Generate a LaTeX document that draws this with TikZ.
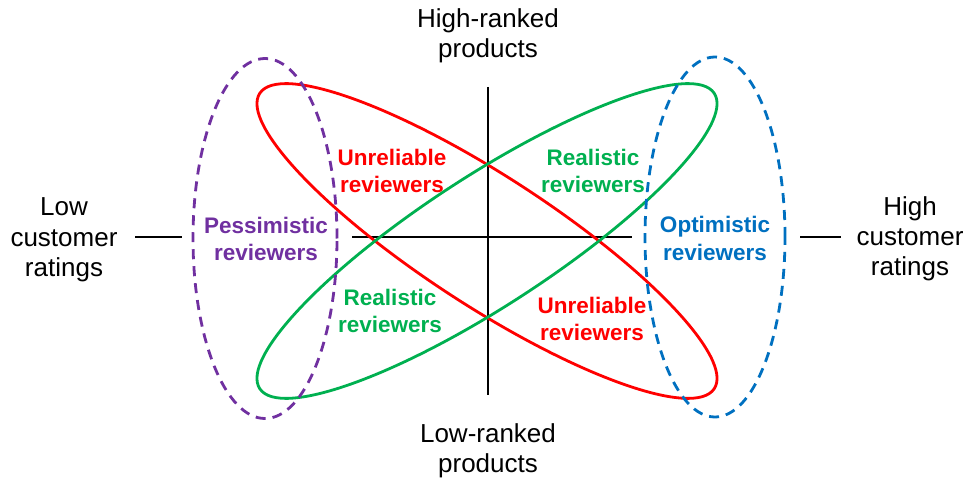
\documentclass[tikz,border=0pt]{standalone}
\usepackage{fontspec}
\setmainfont{Liberation Sans}
\definecolor{redline}{HTML}{FF0000}
\definecolor{greenline}{HTML}{00B050}
\definecolor{purpleline}{HTML}{7030A0}
\definecolor{blueline}{HTML}{0070C0}
\begin{document}
\begin{tikzpicture}[x=1pt,y=1pt,
  axis/.style={line width=2.4pt, black},
  loop/.style={line width=2.8pt},
  dashloop/.style={line width=2.8pt, dash pattern=on 10pt off 7pt},
  axislabel/.style={align=center, inner sep=0pt, font=\fontsize{26}{30}\selectfont},
  grouplabel/.style={align=center, inner sep=0pt, font=\fontsize{22.5}{27.5}\selectfont\bfseries},
]
\useasboundingbox (0,0) rectangle (969,480);

% quadrant axes
\coordinate (vtop) at (488,393);
\coordinate (vbot) at (488,85);
\coordinate (hleft) at (352,243);
\coordinate (hright) at (632,243);
\draw[axis] (vtop) -- (vbot);
\draw[axis] (hleft) -- (hright);

% short ticks beside the side labels
\coordinate (lt1) at (135,243);
\coordinate (lt2) at (182,243);
\coordinate (rt1) at (800,243);
\coordinate (rt2) at (841,243);
\draw[axis] (lt1) -- (lt2);
\draw[axis] (rt1) -- (rt2);

% reviewer groups
\draw[loop, redline, rotate around={-33:(487,239)}] (487,239) ellipse (271 and 65);
\draw[loop, greenline, rotate around={33:(487,239)}] (487,239) ellipse (271 and 65);
\draw[dashloop, purpleline] (265,241.5) ellipse (72 and 180);
\draw[dashloop, blueline] (715,243) ellipse (70 and 180);

% axis labels
\node[axislabel] (high) at (488,443) {\strut High-ranked\\products\strut};
\node[axislabel] (low) at (488,29) {\strut Low-ranked\\products\strut};
\node[axislabel] (lowc) at (64,240) {\strut Low\\customer\\ratings\strut};
\node[axislabel] (highc) at (910,241) {\strut High\\customer\\ratings\strut};

% group labels
\node[grouplabel, purpleline] (pess) at (266,238.5) {\strut Pessimistic\\reviewers\strut};
\node[grouplabel, blueline] (opt) at (715,239) {\strut Optimistic\\reviewers\strut};
\node[grouplabel, redline] (unrelA) at (392,306.5) {\strut Unreliable\\reviewers\strut};
\node[grouplabel, greenline] (realA) at (593,306.5) {\strut Realistic\\reviewers\strut};
\node[grouplabel, greenline] (realB) at (390,166.5) {\strut Realistic\\reviewers\strut};
\node[grouplabel, redline] (unrelB) at (592,158.5) {\strut Unreliable\\reviewers\strut};
\end{tikzpicture}
\end{document}
